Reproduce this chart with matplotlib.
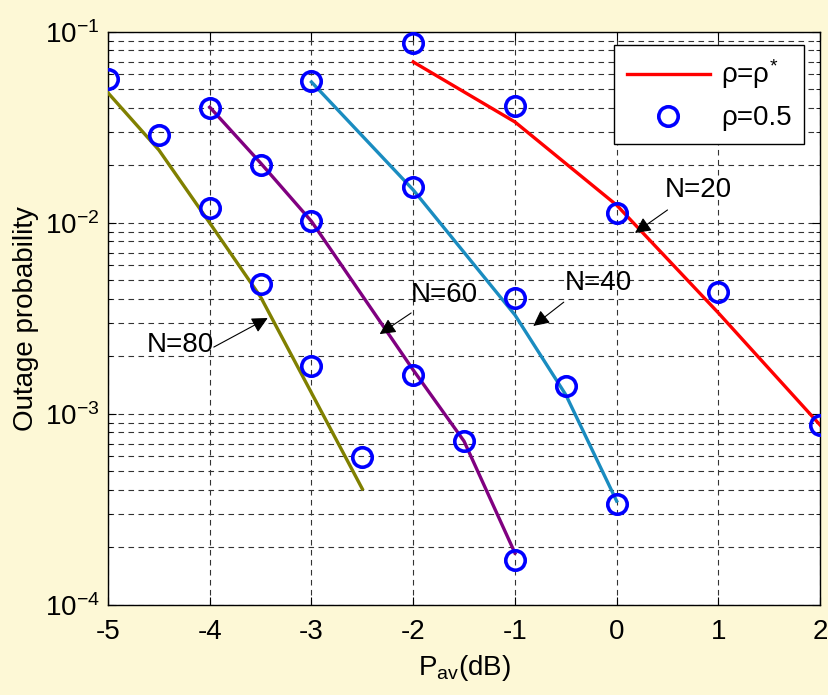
import matplotlib
matplotlib.use("Agg")
import matplotlib.pyplot as plt

plt.rcParams['font.family'] = ['Liberation Sans', 'DejaVu Sans']
plt.rcParams['mathtext.default'] = 'regular'
plt.rcParams['mathtext.fontset'] = 'custom'
plt.rcParams['mathtext.rm'] = 'Liberation Sans'

# rho = rho* curves
x20 = [-2, -1, 0, 1, 2]
y20 = [0.0697, 0.0338, 0.0124, 0.00338, 0.000875]
x40 = [-3, -2, -1, -0.5, 0]
y40 = [0.0547, 0.0149, 0.0033, 0.00126, 0.00035]
x60 = [-4, -3.5, -3, -2, -1.5, -1]
y60 = [0.0404, 0.0206, 0.0102, 0.0017, 0.00072, 0.000187]
x80 = [-5, -4.5, -4, -3.5, -3, -2.5]
y80 = [0.048, 0.0241, 0.0100, 0.0041, 0.00129, 0.000405]

# rho = 0.5 markers
mx20 = [-2, -1, 0, 1, 2]
my20 = [0.0875, 0.041, 0.0113, 0.00436, 0.00088]
mx40 = [-3, -2, -1, -0.5, 0]
my40 = [0.0555, 0.0155, 0.00405, 0.0014, 0.000338]
mx60 = [-4, -3.5, -3, -2, -1.5, -1]
my60 = [0.040, 0.0200, 0.0102, 0.0016, 0.00072, 0.000172]
mx80 = [-5, -4.5, -4, -3.5, -3, -2.5]
my80 = [0.0568, 0.0289, 0.0120, 0.0048, 0.00178, 0.000596]

xticks = [-5, -4, -3, -2, -1, 0, 1, 2]

# annotations: label, text position, arrow tail, arrow head
ann_labels = ['N=20', 'N=40', 'N=60', 'N=80']
ann_text = [(0.80, 0.0149), (-0.18, 0.00485), (-1.69, 0.0042), (-4.29, 0.0023)]
ann_tail = [(0.50, 0.0117), (-0.52, 0.00385), (-2.02, 0.00338), (-3.96, 0.00224)]
ann_head = [(0.18, 0.00887), (-0.82, 0.00289), (-2.33, 0.00262), (-3.43, 0.00318)]

fig = plt.figure(figsize=(8.29, 6.95), dpi=100, facecolor='#FDF8D6')
ax = fig.add_axes([0.1303, 0.1295, 0.8590, 0.8245])
ax.set_facecolor('white')

lw = 2.4
ax.plot(x20, y20, color='#FF0000', lw=lw, label=r'ρ=ρ$^{*}$', zorder=3)
ax.plot(x40, y40, color='#1A8CC0', lw=lw, zorder=3)
ax.plot(x60, y60, color='#800080', lw=lw, zorder=3)
ax.plot(x80, y80, color='#808000', lw=lw, zorder=3)

mk = dict(marker='o', ls='none', mfc='none', mec='#0000FF', ms=14, mew=2.6, zorder=4)
ax.plot(mx20, my20, label='ρ=0.5', **mk)
ax.plot(mx40, my40, **mk)
ax.plot(mx60, my60, **mk)
ax.plot(mx80, my80, **mk)

ax.set_yscale('log')
ax.set_xlim(-5, 2)
ax.set_ylim(1e-4, 1e-1)
ax.set_xticks(xticks)
ax.set_xticklabels([str(v) for v in xticks])

grid_kw = dict(color='#333333', linestyle=(0, (5, 4)), linewidth=0.8)
ax.grid(True, which='major', axis='both', **grid_kw)
ax.grid(True, which='minor', axis='y', **grid_kw)

ax.tick_params(which='both', direction='in', top=True, right=True, labelsize=20)
ax.tick_params(axis='x', pad=10)
ax.tick_params(axis='y', pad=6)
ax.tick_params(which='major', length=6)
ax.tick_params(which='minor', length=3)
for s in ax.spines.values():
    s.set_linewidth(1.0)

ax.set_xlabel(r'P$_{av}$(dB)', fontsize=20, labelpad=6)
ax.set_ylabel('Outage probability', fontsize=20, labelpad=4)

leg = ax.legend(loc='upper right', fontsize=20, frameon=True, fancybox=False,
                edgecolor='black', framealpha=1, handlelength=3.0,
                borderpad=0.45, labelspacing=0.5, handletextpad=0.4,
                borderaxespad=0, bbox_to_anchor=(0.9775, 0.977))
leg.get_frame().set_linewidth(1.0)

arr = dict(arrowstyle='-|>', color='black', lw=0.8, mutation_scale=24,
           shrinkA=0, shrinkB=0)
for lab, t, a, h in zip(ann_labels, ann_text, ann_tail, ann_head):
    ax.text(t[0], t[1], lab, fontsize=20, ha='center', va='center', zorder=5)
    ax.annotate('', xy=h, xytext=a, arrowprops=arr, zorder=5)

fig.savefig('out.png', dpi=100, facecolor=fig.get_facecolor())
